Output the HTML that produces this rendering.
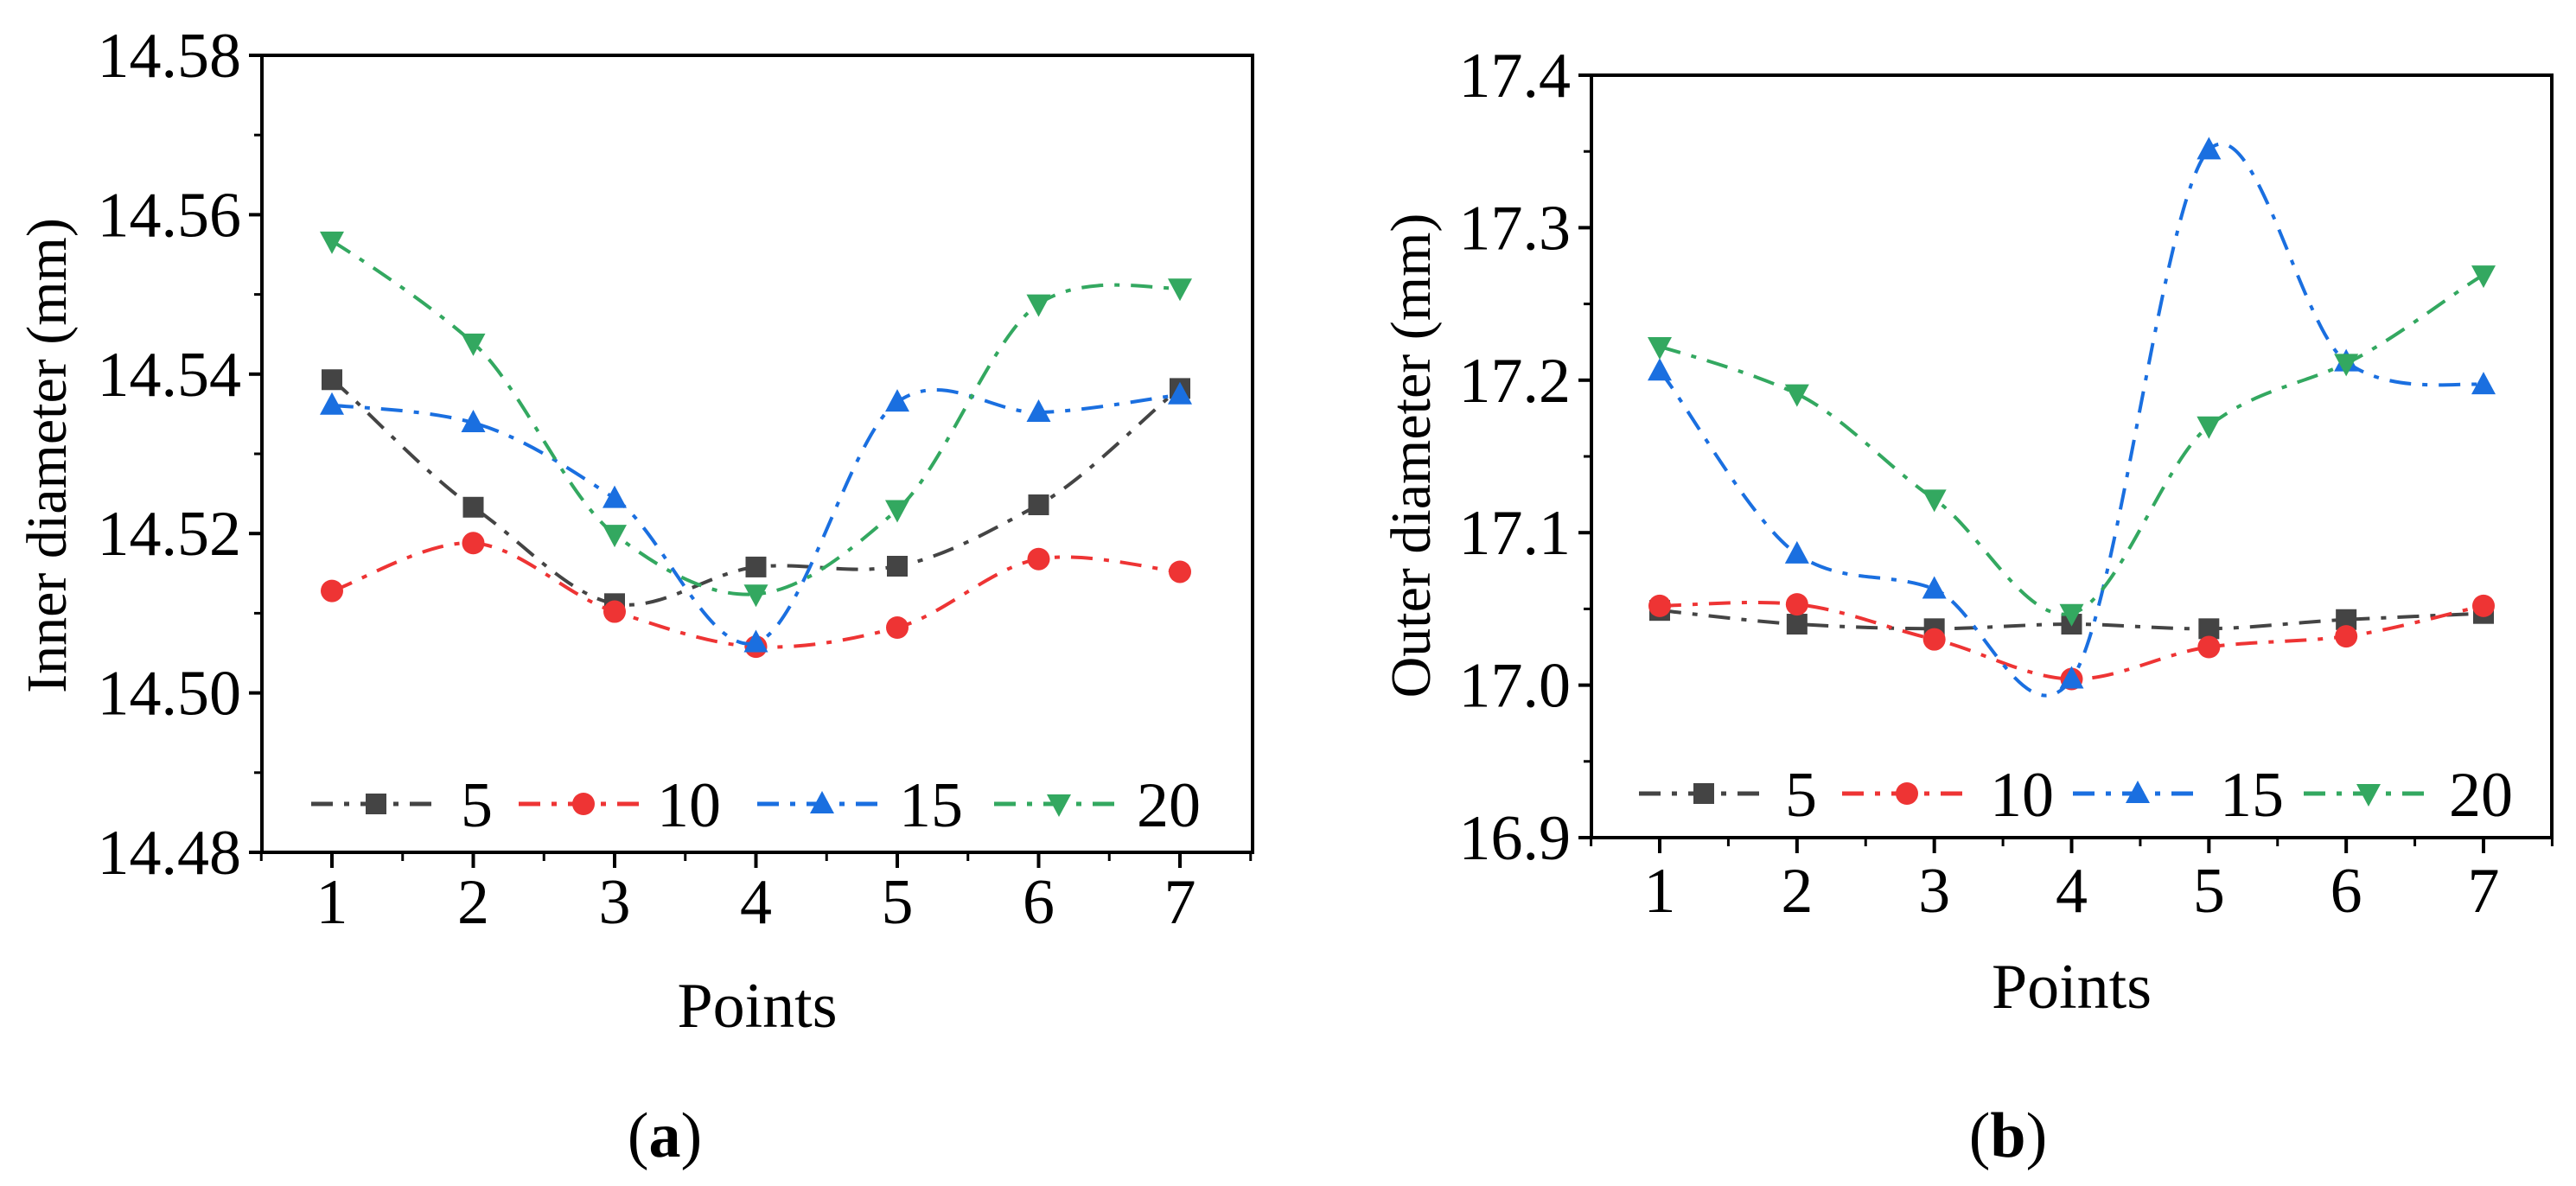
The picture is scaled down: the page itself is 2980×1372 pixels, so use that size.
<!DOCTYPE html>
<html><head><meta charset="utf-8"><style>
html,body{margin:0;padding:0;background:#fff;}
svg{display:block;font-family:"Liberation Serif",serif;}
</style></head><body>
<svg id="fig" width="2980" height="1372" viewBox="0 0 2980 1372" xmlns="http://www.w3.org/2000/svg"></svg>
<script>
const points = [1,2,3,4,5,6,7];
const seriesNames = ["5","10","15","20"];
const innerS5  = [14.5393,14.5233,14.5112,14.5158,14.5159,14.5236,14.5382];
const innerS10 = [14.5128,14.5188,14.5102,14.5058,14.5082,14.5168,14.5152];
const innerS15 = [14.5361,14.5339,14.5244,14.5063,14.5365,14.5352,14.5374];
const innerS20 = [14.5567,14.5439,14.5199,14.5124,14.5230,14.5488,14.5508];
const outerS5  = [17.049,17.040,17.037,17.040,17.037,17.043,17.047];
const outerS10 = [17.052,17.053,17.030,17.004,17.025,17.032,17.052];
const outerS15 = [17.206,17.086,17.063,17.004,17.351,17.212,17.197];
const outerS20 = [17.222,17.191,17.122,17.047,17.170,17.211,17.269];
const innerTicks = ["14.48","14.50","14.52","14.54","14.56","14.58"];
const outerTicks = ["16.9","17.0","17.1","17.2","17.3","17.4"];

const NS="http://www.w3.org/2000/svg";
const svg=document.getElementById('fig');
const colors=["#444444","#ee3434","#1a6fe0","#33a860"];
const markers=["square","circle","up","down"];
const DASH='25 13 6 13';
function mk(tag,attrs,parent){const e=document.createElementNS(NS,tag);for(const k in attrs)e.setAttribute(k,attrs[k]);(parent||svg).appendChild(e);return e;}
function marker(g,type,x,y,c){
  let e;
  if(type==="square") e=mk('rect',{x:x-12,y:y-12,width:24,height:24,fill:c},g);
  else if(type==="circle") e=mk('circle',{cx:x,cy:y,r:13,fill:c},g);
  else if(type==="up") e=mk('polygon',{points:`${x},${y-15} ${x-14},${y+11} ${x+14},${y+11}`,fill:c},g);
  else e=mk('polygon',{points:`${x},${y+15} ${x-14},${y-11} ${x+14},${y-11}`,fill:c},g);
  
  
}
function spline(pts){
  let d=`M${pts[0][0]},${pts[0][1]}`;
  const k=7;
  for(let i=0;i<pts.length-1;i++){
    const p0=pts[Math.max(0,i-1)],p1=pts[i],p2=pts[i+1],p3=pts[Math.min(pts.length-1,i+2)];
    const c1=[p1[0]+(p2[0]-p0[0])/6,p1[1]+(p2[1]-p0[1])/k];
    const c2=[p2[0]-(p3[0]-p1[0])/6,p2[1]-(p3[1]-p1[1])/k];
    d+=` C${c1[0]},${c1[1]} ${c2[0]},${c2[1]} ${p2[0]},${p2[1]}`;
  }
  return d;
}
function panel(cfg){
  const g=mk('g',{});
  
  
  const {L,R,T,B,x1,x7,ymin,ymax}=cfg;
  const xs=v=>x1+(v-1)*(x7-x1)/6;
  const ys=v=>B-(v-ymin)/(ymax-ymin)*(B-T);
  cfg.data.forEach((arr,si)=>{
    const pts=points.map((p,i)=>[xs(p),ys(arr[i])]);
    const path=mk('path',{d:spline(pts),fill:'none',stroke:colors[si],'stroke-width':4,'stroke-dasharray':DASH},g);
    
    
    pts.forEach(p=>marker(g,markers[si],p[0],p[1],colors[si]));
  });
  const fr=mk('rect',{x:L,y:T,width:R-L,height:B-T,fill:'none',stroke:'#000','stroke-width':4},g);
  
  
  const n=cfg.ticks.length;
  for(let i=0;i<n;i++){
    const v=ymin+i*(ymax-ymin)/(n-1);const y=ys(v);
    mk('line',{x1:L-15,y1:y,x2:L,y2:y,stroke:'#000','stroke-width':4},g);
    if(i<n-1){const ym=ys(v+(ymax-ymin)/(n-1)/2);mk('line',{x1:L-9,y1:ym,x2:L,y2:ym,stroke:'#000','stroke-width':3},g);}
    const t=mk('text',{x:L-24,y:y+25,'font-size':74,'text-anchor':'end'},g);t.textContent=cfg.ticks[i];
    
  }
  const step=(x7-x1)/6;
  for(let x=x1-step/2;x<=R+1;x+=step/2){
    const major=Math.abs(((x-x1)/step)-Math.round((x-x1)/step))<0.01;
    if(x<L-1)continue;
    mk('line',{x1:x,y1:B,x2:x,y2:B+(major?18:10),stroke:'#000','stroke-width':major?4:3},g);
  }
  points.forEach(p=>{const t=mk('text',{x:xs(p),y:cfg.xtickY,'font-size':74,'text-anchor':'middle'},g);t.textContent=p;
    });
  const yt=mk('text',{x:0,y:0,'font-size':66,'text-anchor':'middle',transform:`translate(${cfg.ytX},${527}) rotate(-90)`},g);
  yt.textContent=cfg.ytitle;
  const xt=mk('text',{x:(L+R)/2,y:cfg.xtY,'font-size':74,'text-anchor':'middle'},g);
  xt.textContent='Points';
  const lab=mk('text',{x:cfg.labX,y:1338,'font-size':74,'text-anchor':'middle'},g);
  lab.innerHTML='(<tspan font-weight="bold">'+cfg.label+'</tspan>)';
  
  cfg.leg.forEach((l,si)=>{
    const lg=mk('g',{},g);
    
    
    mk('line',{x1:l[0],y1:cfg.legY,x2:l[0]+140,y2:cfg.legY,stroke:colors[si],'stroke-width':5,'stroke-dasharray':DASH},lg);
    marker(lg,markers[si],l[0]+75,cfg.legY,colors[si]);
    const t=mk('text',{x:l[1],y:cfg.legY+26,'font-size':74},lg);t.textContent=seriesNames[si];
  });
}
panel({name:'panel-a-inner-diameter',L:303,R:1449,T:64,B:986,x1:384,x7:1365,ymin:14.48,ymax:14.58,
  ticks:innerTicks,data:[innerS5,innerS10,innerS15,innerS20],xtickY:1068,ytX:76,ytitle:'Inner diameter (mm)',
  xtY:1188,labX:769,label:'a',legY:930,leg:[[360,533],[600,760],[876,1040],[1150,1315]]});
panel({name:'panel-b-outer-diameter',L:1841,R:2952,T:87,B:969,x1:1920,x7:2873,ymin:16.9,ymax:17.4,
  ticks:outerTicks,data:[outerS5,outerS10,outerS15,outerS20],xtickY:1055,ytX:1654,ytitle:'Outer diameter (mm)',
  xtY:1166,labX:2323,label:'b',legY:918,leg:[[1896,2065],[2131,2302],[2398,2568],[2665,2833]]});
</script>
</body></html>
